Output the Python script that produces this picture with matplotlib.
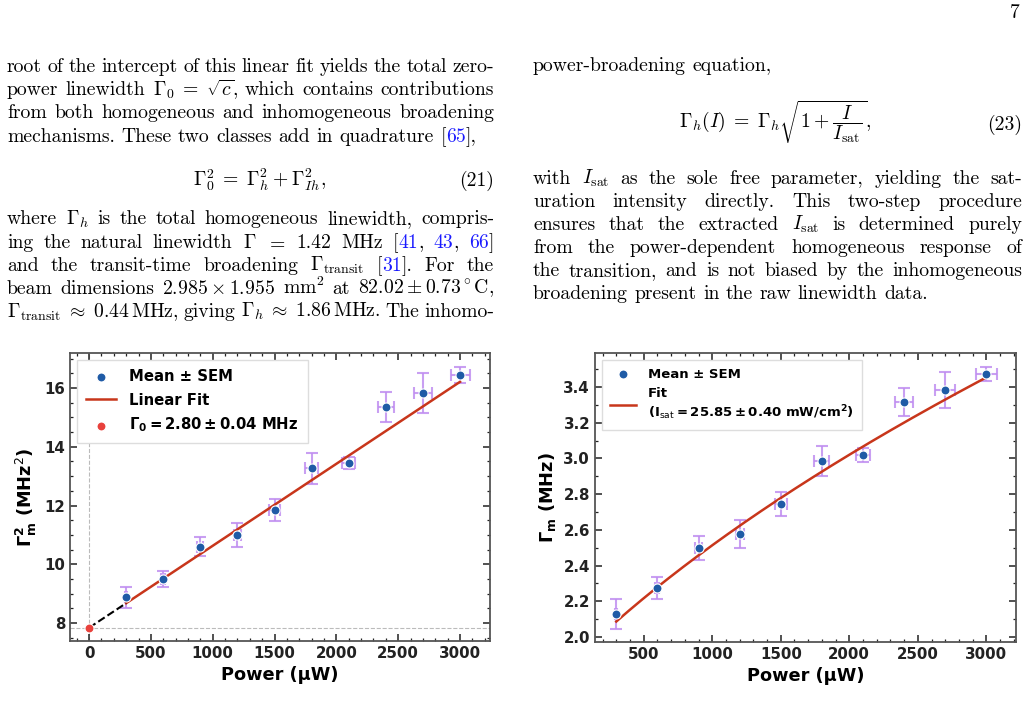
import numpy as np
import matplotlib
matplotlib.use('Agg')
import matplotlib.pyplot as plt
from matplotlib.ticker import MultipleLocator
from matplotlib.font_manager import FontProperties

W, H = 1029, 723

# ---- data ----
power = [300, 600, 900, 1200, 1500, 1800, 2100, 2400, 2700, 3000]
power_err = [8, 15, 25, 30, 45, 54, 52, 65, 73, 77]

gamma_sq = [8.88, 9.51, 10.60, 10.99, 11.85, 13.26, 13.44, 15.36, 15.83, 16.44]
gamma_sq_err = [0.36, 0.27, 0.33, 0.40, 0.36, 0.52, 0.20, 0.51, 0.68, 0.28]

gamma_m = [2.128, 2.274, 2.498, 2.577, 2.743, 2.985, 3.017, 3.317, 3.384, 3.472]
gamma_m_err = [0.084, 0.060, 0.065, 0.076, 0.066, 0.086, 0.039, 0.078, 0.100, 0.040]

# fit parameters
gamma0 = 2.80
lin_slope = 0.00279
gamma_h_fit = 1.874
p_sat = 1252.0

# ---- page text ----
left_para1 = [
    "root of the intercept of this linear fit yields the total zero-",
    r"power linewidth $\Gamma_0 \;=\; \sqrt{c}$, which contains contributions",
    "from both homogeneous and inhomogeneous broadening",
]
left_para1_last = "mechanisms.  These two classes add in quadrature [#65#],"
left_para2 = [
    r"where $\Gamma_h$ is the total homogeneous linewidth, compris-",
    r"ing the natural linewidth $\Gamma$ $=$ 1.42 MHz [#41#, #43#, #66#]",
    r"and the transit-time broadening $\Gamma_{\mathrm{transit}}$ [#31#].  For the",
    r"beam dimensions $2.985 \times 1.955$ mm$^2$ at $82.02 \pm 0.73^\circ$C,",
    r"$\Gamma_{\mathrm{transit}} \;\approx\; 0.44\,$MHz, giving $\Gamma_h \;\approx\; 1.86\,$MHz. The inhomo-",
]
right_first = "power-broadening equation,"
right_para = [
    r"with $I_{\mathrm{sat}}$ as the sole free parameter, yielding the sat-",
    "uration intensity directly.  This two-step procedure",
    r"ensures that the extracted $I_{\mathrm{sat}}$ is determined purely",
    "from the power-dependent homogeneous response of",
    "the transition, and is not biased by the inhomogeneous",
]
right_last = "broadening present in the raw linewidth data."

plt.rcParams['mathtext.fontset'] = 'dejavusans'
fig = plt.figure(figsize=(W / 100, H / 100), dpi=100)
renderer = fig.canvas.get_renderer()

fs = 14.2
txt_kw = dict(family='cmr10', fontsize=fs, math_fontfamily='cm', va='baseline')
blue = '#1a1aff'


def split_words(line):
    words, cur, inmath = [], '', False
    for ch in line:
        if ch == '$':
            inmath = not inmath
        if ch == ' ' and not inmath:
            if cur:
                words.append(cur)
            cur = ''
        else:
            cur += ch
    if cur:
        words.append(cur)
    return words


def make_word(word, y):
    parts = word.split('#')
    segs = []
    for i, p in enumerate(parts):
        if p == '':
            continue
        t = fig.text(0, 1 - y / H, p, color=blue if i % 2 else 'black', **txt_kw)
        segs.append((t, t.get_window_extent(renderer).width))
    return segs


def put_line(x0, x1, y, line, justify=True):
    words = [make_word(w, y) for w in split_words(line)]
    widths = [sum(s[1] for s in wd) for wd in words]
    space = 6.5
    if justify and len(words) > 1:
        space = (x1 - x0 - sum(widths)) / (len(words) - 1)
    x = x0
    for wd, w in zip(words, widths):
        xx = x
        for t, sw in wd:
            t.set_x(xx / W)
            xx += sw
        x += w + space


# left column
for y, line in zip([71.7, 95, 118.3], left_para1):
    put_line(7, 494, y, line)
put_line(7, 494, 141.7, left_para1_last, justify=False)
fig.text(260 / W, 1 - 186 / H,
         r"$\Gamma_0^2 \;=\; \Gamma_h^2 \:+\: \Gamma_{Ih}^2,$",
         ha='center', **txt_kw)
fig.text(494 / W, 1 - 186 / H, "(21)", ha='right', **txt_kw)
for y, line in zip([224.5, 247.7, 270.8, 294, 317], left_para2):
    put_line(7, 494, y, line)

# right column
put_line(533, 1022, 71, right_first, justify=False)
fig.text(775 / W, 1 - 122 / H,
         r"$\Gamma_h(I) \;=\; \Gamma_h\sqrt{1 \:+\: \dfrac{I}{I_{\mathrm{sat}}}},$",
         ha='center', family='cmr10', fontsize=fs, math_fontfamily='cm', va='center')
fig.text(1022 / W, 1 - 130 / H, "(23)", ha='right', **txt_kw)
for y, line in zip([184, 207, 230, 253, 275.8], right_para):
    put_line(533, 1022, y, line)
put_line(533, 1022, 298.7, right_last, justify=False)

fig.text(1020 / W, 1 - 18 / H, "7", ha='right', **txt_kw)

# ---- charts ----
pt_color = '#1f5ba6'
err_color = '#c08ef0'
fit_color = '#c8361b'
zero_color = '#e8413c'


def style_axes(ax):
    ax.tick_params(which='both', direction='in', top=True, right=True, colors='#222222')
    ax.tick_params(which='major', length=5, width=1.1, labelsize=10.8)
    ax.tick_params(which='minor', length=2.5, width=0.9)
    for lab in ax.get_xticklabels() + ax.get_yticklabels():
        lab.set_fontweight('bold')
    for s in ax.spines.values():
        s.set_color('#555555')
        s.set_linewidth(1.3)


# left chart
ax1 = fig.add_axes([70 / W, 1 - 641 / H, 420 / W, 288 / H])
ax1.axvline(0, color='#bbbbbb', lw=0.8, ls='--', zorder=0)
ax1.axhline(gamma0 ** 2, color='#bbbbbb', lw=0.8, ls='--', zorder=0)
ax1.errorbar(power, gamma_sq, xerr=power_err, yerr=gamma_sq_err, fmt='none',
             ecolor=err_color, elinewidth=1.5, capsize=4, capthick=1.5, alpha=0.85, zorder=2)
ax1.scatter(power, gamma_sq, s=42, color=pt_color, edgecolor='white', linewidth=0.8,
            zorder=4, label='Mean ± SEM')
xf = np.array([power[0], power[-1]])
ax1.plot(xf, gamma0 ** 2 + lin_slope * xf, color=fit_color, lw=1.8, zorder=3, label='Linear Fit')
xd = np.array([0, power[0]])
ax1.plot(xd, gamma0 ** 2 + lin_slope * xd, color='black', lw=1.5, ls='--', zorder=3)
ax1.scatter([0], [gamma0 ** 2], s=42, color=zero_color, edgecolor='white', linewidth=0.8,
            zorder=5, label=r'$\mathbf{\Gamma_0 = 2.80 \pm 0.04}$ MHz')
ax1.set_xlim(-154, 3242)
ax1.set_ylim(7.39, 17.19)
ax1.xaxis.set_major_locator(MultipleLocator(500))
ax1.xaxis.set_minor_locator(MultipleLocator(100))
ax1.yaxis.set_major_locator(MultipleLocator(2))
ax1.yaxis.set_minor_locator(MultipleLocator(0.5))
style_axes(ax1)
ax1.set_xlabel('Power (μW)', fontsize=12.8, fontweight='bold')
ax1.set_ylabel(r'$\mathbf{\Gamma_m^2}$ (MHz$^2$)', fontsize=12.8, fontweight='bold')
ax1.legend(loc='upper left', prop=FontProperties(weight='bold', size=10.7),
           framealpha=1, edgecolor='#dddddd', fancybox=False, borderpad=0.6,
           labelspacing=0.55, handletextpad=0.9)

# right chart
ax2 = fig.add_axes([595 / W, 1 - 642 / H, 421 / W, 289 / H])
ax2.errorbar(power, gamma_m, xerr=power_err, yerr=gamma_m_err, fmt='none',
             ecolor=err_color, elinewidth=1.5, capsize=4, capthick=1.5, alpha=0.85, zorder=2)
ax2.scatter(power, gamma_m, s=42, color=pt_color, edgecolor='white', linewidth=0.8,
            zorder=4, label='Mean ± SEM')
xs = np.linspace(power[0], power[-1], 200)
ax2.plot(xs, gamma_h_fit * np.sqrt(1 + xs / p_sat), color=fit_color, lw=1.8, zorder=3,
         label='Fit\n' + r'($\mathbf{I}_{\mathrm{sat}}\mathbf{ = 25.85 \pm 0.40}$ mW/cm$^\mathbf{2}$)')
ax2.set_xlim(145, 3216)
ax2.set_ylim(1.972, 3.59)
ax2.xaxis.set_major_locator(MultipleLocator(500))
ax2.xaxis.set_minor_locator(MultipleLocator(100))
ax2.yaxis.set_major_locator(MultipleLocator(0.2))
ax2.yaxis.set_minor_locator(MultipleLocator(0.1))
style_axes(ax2)
ax2.set_xlabel('Power (μW)', fontsize=12.8, fontweight='bold')
ax2.set_ylabel(r'$\mathbf{\Gamma_m}$ (MHz)', fontsize=12.8, fontweight='bold')
ax2.legend(loc='upper left', prop=FontProperties(weight='bold', size=9.5),
           framealpha=1, edgecolor='#dddddd', fancybox=False, borderpad=0.6,
           labelspacing=0.5, handletextpad=0.9)

fig.savefig('out.png', dpi=100)
